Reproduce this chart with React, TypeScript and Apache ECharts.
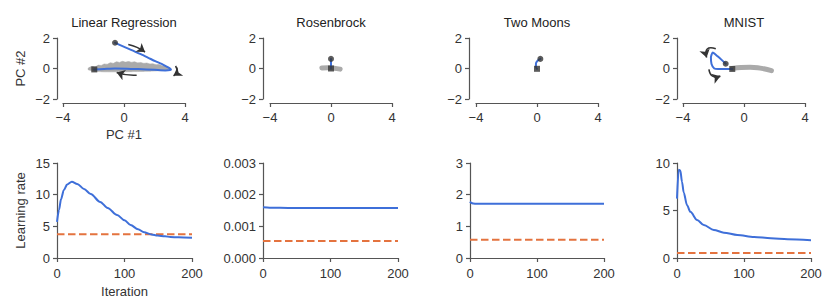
import React, { useEffect, useRef } from 'react';
import * as echarts from 'echarts';

// ---------- data ----------
const panelTitles = ['Linear Regression', 'Rosenbrock', 'Two Moons', 'MNIST'];

const pcXTicks = [-4, 0, 4];
const pcYTicks = [-2, 0, 2];
const iterTicks = [0, 100, 200];
const rateTicks = [
  [0, 5, 10, 15],
  [0, 0.001, 0.002, 0.003],
  [0, 1, 2, 3],
  [0, 5, 10],
];

// Linear regression PCA trajectory
const lrTraj = [
  [-0.59, 1.69], [-0.1, 1.47], [0.5, 1.2], [1.1, 0.94], [1.6, 0.7], [2.05, 0.48],
  [2.47, 0.3], [2.8, 0.12], [3.02, -0.01], [3.08, -0.09], [2.7, -0.13], [2.0, -0.09],
  [0.94, -0.04], [0.2, -0.01], [-0.59, 0.0], [-1.3, -0.03], [-1.95, -0.06],
];
const lrBandX = [-2.35, -2.1, -1.9, -1.7, -1.5, -1.3, -1.1, -0.9, -0.7, -0.5, -0.3, -0.1, 0.1, 0.3,
  0.5, 0.7, 0.9, 1.1, 1.3, 1.5, 1.7, 1.9, 2.1, 2.3, 2.5, 2.7, 2.9, 3.05];
const lrBandUpper = [0.02, 0.14, 0.1, 0.22, 0.2, 0.3, 0.28, 0.38, 0.34, 0.44, 0.4, 0.47, 0.42, 0.46,
  0.41, 0.44, 0.37, 0.4, 0.34, 0.36, 0.3, 0.31, 0.25, 0.26, 0.18, 0.15, 0.07, 0.0];
const lrBandLower = [-0.08, -0.15, -0.19, -0.2, -0.21, -0.22, -0.22, -0.22, -0.22, -0.22, -0.22, -0.22,
  -0.22, -0.21, -0.21, -0.2, -0.2, -0.19, -0.19, -0.18, -0.18, -0.17, -0.16, -0.15, -0.14, -0.12, -0.08, -0.03];
const lrArrows = [
  [[0.28, 1.57], [1.38, 1.08]],
  [[3.38, 0.16], [3.25, -0.48]],
  [[0.83, -0.44], [-0.48, -0.26]],
];

// Rosenbrock
const rbTraj = [[0.0, 0.63], [0.0, 0.3], [0.0, 0.0]];
const rbGray = [[-0.6, 0.04], [-0.2, 0.05], [0.2, 0.02], [0.6, -0.04]];

// Two Moons
const tmTraj = [[0.22, 0.63], [0.05, 0.52], [-0.07, 0.33], [-0.07, 0.12], [0.0, -0.02]];

// MNIST
const mnTraj = [
  [-1.2, 0.31], [-1.45, 0.55], [-1.75, 0.82], [-2.05, 1.05], [-2.17, 0.72], [-2.13, 0.3],
  [-1.95, 0.0], [-1.7, -0.04], [-1.2, -0.03], [-0.77, -0.03],
];
const mnGray = [[-0.77, 0.0], [-0.2, 0.06], [0.4, 0.08], [0.9, 0.05], [1.3, -0.02], [1.8, -0.14]];
const mnArrows = [
  [[-1.85, 1.3], [-2.45, 0.72]],
  [[-2.3, -0.05], [-1.55, -0.5]],
];

// Learning-rate curves
const lrIter = [0, 3, 6, 10, 15, 22, 30, 40, 50, 64, 75, 89, 100, 109, 120, 129, 140, 149, 160, 168, 180, 200];
const lrRate = [5.7, 7.6, 9.3, 10.7, 11.6, 12.05, 11.7, 10.9, 10.1, 8.85, 7.9, 6.8, 5.95, 5.2, 4.55, 4.06,
  3.72, 3.54, 3.42, 3.33, 3.26, 3.18];
const lrConst = 3.75;

const rbIter = [0, 10, 40, 100, 200];
const rbRate = [0.0016, 0.00159, 0.00158, 0.00158, 0.00158];
const rbConst = 0.00054;

const tmIter = [0, 2, 5, 10, 100, 200];
const tmRate = [1.78, 1.74, 1.72, 1.71, 1.71, 1.71];
const tmConst = 0.575;

const mnIter = [0, 2.5, 5, 7.5, 10, 15, 20, 30, 40, 55, 70, 90, 115, 140, 165, 200];
const mnRate = [6.25, 9.3, 9.2, 8.0, 6.9, 5.55, 4.86, 4.0, 3.47, 2.95, 2.67, 2.43, 2.22, 2.08, 1.98, 1.88];
const mnConst = 0.52;

// ---------- styles / layout ----------
const FONT = "'Liberation Sans', Arial, Helvetica, sans-serif";
const BLUE = '#3e6fd9';
const ORANGE = '#e4733f';
const GRAY = '#aaaaaa';
const DARK = '#333333';
const AXIS = '#555555';
const TEXT = '#333333';

const topLefts = [63, 270, 476, 683];
const topW = 122;
const topTop = 38;
const topH = 61;
const topYOffsets = [6, 7, 7, 6];
const topXOffset = 4;

const botLefts = [57, 263, 470, 677];
const botWidths = [135, 135, 134, 134];
const botTop = 163;
const botH = 95;

const minusFmt = (v: number) => (v < 0 ? '\u2212' + String(-v) : String(v));

function axis(gridIndex: number, ticks: number[], fmt: (v: number) => string, margin: number, extra: any = {}) {
  return {
    type: 'value',
    gridIndex,
    min: ticks[0],
    max: ticks[ticks.length - 1],
    interval: ticks[1] - ticks[0],
    axisLine: { show: true, onZero: false, lineStyle: { color: AXIS, width: 1.2 } },
    axisTick: { show: true, length: 4, lineStyle: { color: AXIS, width: 1.2 } },
    axisLabel: { color: TEXT, fontSize: 13, fontFamily: FONT, formatter: fmt, margin },
    splitLine: { show: false },
    nameTextStyle: { color: TEXT, fontSize: 13, fontFamily: FONT },
    ...extra,
  };
}

function buildOption() {
  const grids: any[] = [];
  const xAxes: any[] = [];
  const yAxes: any[] = [];
  for (let i = 0; i < 4; i++) {
    grids.push({ left: topLefts[i], top: topTop, width: topW, height: topH });
    xAxes.push(axis(i, pcXTicks, minusFmt, 8, {
      offset: topXOffset,
      ...(i === 0 ? { name: 'PC #1', nameLocation: 'middle', nameGap: 25 } : {}),
    }));
    yAxes.push(axis(i, pcYTicks, minusFmt, 7, {
      offset: topYOffsets[i],
      ...(i === 0 ? { name: 'PC #2', nameLocation: 'middle', nameGap: 30, nameRotate: 90 } : {}),
    }));
  }
  for (let i = 0; i < 4; i++) {
    grids.push({ left: botLefts[i], top: botTop, width: botWidths[i], height: botH });
    xAxes.push(axis(4 + i, iterTicks, (v) => String(v), 9,
      i === 0 ? { name: 'Iteration', nameLocation: 'middle', nameGap: 27 } : {}));
    const fmt = i === 1 ? (v: number) => v.toFixed(3) : (v: number) => String(v);
    yAxes.push(axis(4 + i, rateTicks[i], fmt, 7,
      i === 0 ? { name: 'Learning rate', nameLocation: 'middle', nameGap: 30, nameRotate: 90 } : {}));
  }

  const series: any[] = [];
  const ax = (k: number) => ({ xAxisIndex: k, yAxisIndex: k });

  const traj = (k: number, data: number[][], smooth = 0.2) => ({
    type: 'line', ...ax(k), data, symbol: 'none', smooth, z: 3, silent: true,
    lineStyle: { color: BLUE, width: 2, cap: 'round', join: 'round' },
  });
  const grayLine = (k: number, data: number[][], width: number) => ({
    type: 'line', ...ax(k), data, symbol: 'none', smooth: 0.4, z: 2, silent: true,
    lineStyle: { color: GRAY, width, cap: 'round', join: 'round' },
  });
  const markers = (k: number, data: number[][]) => [
    { type: 'scatter', ...ax(k), data: [data[0]], symbol: 'circle', symbolSize: 6, z: 5, silent: true, itemStyle: { color: DARK } },
    { type: 'scatter', ...ax(k), data: [data[data.length - 1]], symbol: 'rect', symbolSize: 6, z: 5, silent: true, itemStyle: { color: DARK } },
  ];
  const arrows = (k: number, list: number[][][], curv: number[]) => ({
    type: 'lines', coordinateSystem: 'cartesian2d', ...ax(k), z: 4, silent: true,
    symbol: ['none', 'arrow'], symbolSize: 8,
    lineStyle: { color: DARK, width: 1.6, opacity: 1 },
    data: list.map((c, j) => ({ coords: c, lineStyle: { curveness: curv[j] } })),
  });

  // LR band polygon
  series.push({
    type: 'custom', ...ax(0), data: [[0, 0]], z: 1, silent: true,
    renderItem: (_p: any, api: any) => {
      const pts: number[][] = [];
      lrBandX.forEach((x, j) => pts.push(api.coord([x, lrBandUpper[j]])));
      for (let j = lrBandX.length - 1; j >= 0; j--) pts.push(api.coord([lrBandX[j], lrBandLower[j]]));
      return { type: 'polygon', shape: { points: pts, smooth: 0.2 }, style: { fill: GRAY, stroke: GRAY, lineWidth: 0.5 } };
    },
  });
  series.push(traj(0, lrTraj, 0.25));
  series.push(arrows(0, lrArrows, [0.1, 0.5, 0.1]));
  series.push(...markers(0, lrTraj));

  series.push(grayLine(1, rbGray, 5));
  series.push(traj(1, rbTraj, 0));
  series.push(...markers(1, rbTraj));

  series.push(traj(2, tmTraj, 0.4));
  series.push(...markers(2, tmTraj));

  series.push(grayLine(3, mnGray, 5));
  series.push(traj(3, mnTraj, 0.2));
  series.push(arrows(3, mnArrows, [-0.9, -0.6]));
  series.push(...markers(3, mnTraj));

  const curves = [
    [lrIter, lrRate, lrConst],
    [rbIter, rbRate, rbConst],
    [tmIter, tmRate, tmConst],
    [mnIter, mnRate, mnConst],
  ] as [number[], number[], number][];
  curves.forEach(([it, rt, c], i) => {
    const k = 4 + i;
    series.push({
      type: 'line', ...ax(k), data: [[iterTicks[0], c], [iterTicks[iterTicks.length - 1], c]],
      symbol: 'none', z: 2, silent: true,
      lineStyle: { color: ORANGE, width: 2, type: [7.5, 3.5] },
    });
    series.push({
      type: 'line', ...ax(k), data: it.map((x, j) => [x, rt[j]]),
      symbol: 'none', smooth: 0.3, smoothMonotone: 'x', z: 3, silent: true,
      lineStyle: { color: BLUE, width: 2 },
    });
  });

  const graphic = panelTitles.map((t, i) => ({
    type: 'text',
    x: topLefts[i] + topW / 2,
    y: 22,
    silent: true,
    style: { text: t, font: `13px ${FONT}`, fill: '#222', textAlign: 'center', textVerticalAlign: 'middle', align: 'center', verticalAlign: 'middle' },
  }));

  return {
    animation: false,
    backgroundColor: '#ffffff',
    textStyle: { fontFamily: FONT },
    grid: grids,
    xAxis: xAxes,
    yAxis: yAxes,
    series,
    graphic,
  };
}

export default function App() {
  const ref = useRef<HTMLDivElement>(null);
  useEffect(() => {
    if (!ref.current) return;
    const chart = echarts.init(ref.current, null, { renderer: 'svg' });
    chart.setOption(buildOption() as any);
    return () => chart.dispose();
  }, []);
  return <div ref={ref} style={{ position: 'absolute', left: 0, top: 0, width: 831, height: 307 }} />;
}
